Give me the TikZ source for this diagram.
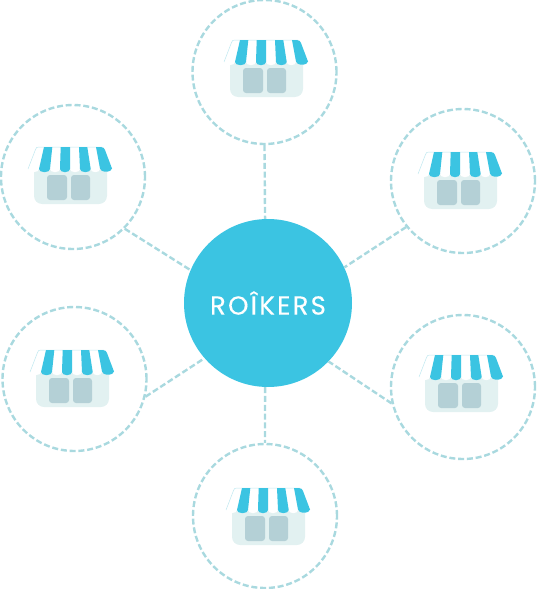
\documentclass[tikz,border=0pt]{standalone}
\usepackage{fontspec}
\setmainfont{Poppins}
\definecolor{brand}{HTML}{3BC4E2}
\definecolor{ring}{HTML}{A9D9DF}
\definecolor{shopbody}{HTML}{E2F1F1}
\definecolor{shopdoor}{HTML}{B4D0D6}
\definecolor{edge}{HTML}{BFE8F0}
\tikzset{
  x=1pt,y=-1pt,
  shopring/.style={circle,draw=ring,line width=2.4pt,dash pattern=on 6pt off 2.8pt,minimum size=144pt,inner sep=0pt},
  hub/.style={circle,fill=brand,minimum size=168pt,inner sep=0pt,text=white},
  link/.style={draw=ring,line width=2.4pt,dash pattern=on 6pt off 2.8pt},
  stripe/.style={fill=brand},
  awn/.style={fill=white},
  door/.style={fill=shopdoor,rounded corners=3pt},
  shop/.pic={
    \fill[shopbody] (230,60) -- (303,60) -- (303,89) arc[start angle=0,end angle=90,radius=8] -- (238,97) arc[start angle=90,end angle=180,radius=8] -- cycle;
    \path[door] (243,68) rectangle (263,93);
    \path[door] (267,68) rectangle (286,93);
    % white awning pieces
    \path[awn] (224,62) -- (231,40) -- (241,40) -- (235,62) arc[start angle=0,end angle=180,radius=5.5,y radius=3.2] -- cycle;
    \path[awn] (248,40) -- (257,40) -- (256,62) arc[start angle=0,end angle=180,radius=5,y radius=3.2] -- cycle;
    \path[awn] (266,40) -- (275,40) -- (276,62) arc[start angle=0,end angle=180,radius=5,y radius=3.2] -- cycle;
    \path[awn] (283,40) -- (292,40) -- (296,62) arc[start angle=0,end angle=180,radius=4.7,y radius=3.2] -- cycle;
    \draw[edge,line width=.5pt] (224,62) -- (231.5,42.5) .. controls (232,40.5) and (233,40) .. (235,40) -- (298,40);
    % blue stripes
    \path[stripe] (240,40) -- (248.3,40) -- (246,62) arc[start angle=0,end angle=180,radius=5.5,y radius=3.2] -- cycle;
    \path[stripe] (256.7,40) -- (266,40) -- (266,62) arc[start angle=0,end angle=180,radius=5,y radius=3.2] -- cycle;
    \path[stripe] (275,40) -- (283.3,40) -- (286.7,62) arc[start angle=0,end angle=180,radius=5.35,y radius=3.2] -- cycle;
    \path[stripe] (292,40) -- (297,40) .. controls (299.5,40) and (300.5,41.5) .. (301,43) -- (308,61.5) arc[start angle=0,end angle=180,radius=6,y radius=3.2] -- cycle;
  }
}
\begin{document}
\begin{tikzpicture}
\useasboundingbox (0,0) rectangle (536,589);
\node[shopring] (top) at (264.5,72) {};
\node[shopring] (lefttop) at (73,177) {};
\node[shopring] (righttop) at (463,181) {};
\node[shopring] (leftbottom) at (74.5,379) {};
\node[shopring] (rightbottom) at (463,387) {};
\node[shopring] (bottom) at (265,516) {};
\node[hub,font=\fontsize{26}{26}\selectfont] (center) at (268,303) {\addfontfeature{LetterSpace=8.5,FakeBold=0.25}\raisebox{-1pt}{ROÎKERS}};
\path[link] (top.-90) -- (center.92.4);
\path[link] (lefttop.-45.6) -- (center.157);
\path[link] (righttop.219) -- (center.25.6);
\path[link] (leftbottom.-14) -- (center.221);
\path[link] (rightbottom.193) -- (center.-44);
\path[link] (center.-92) -- (bottom.90);
\pic at (0,0) {shop};
\pic at (-196,107) {shop};
\pic at (194,112) {shop};
\pic at (-194,310) {shop};
\pic at (195,315) {shop};
\pic at (2,448) {shop};
\end{tikzpicture}
\end{document}
